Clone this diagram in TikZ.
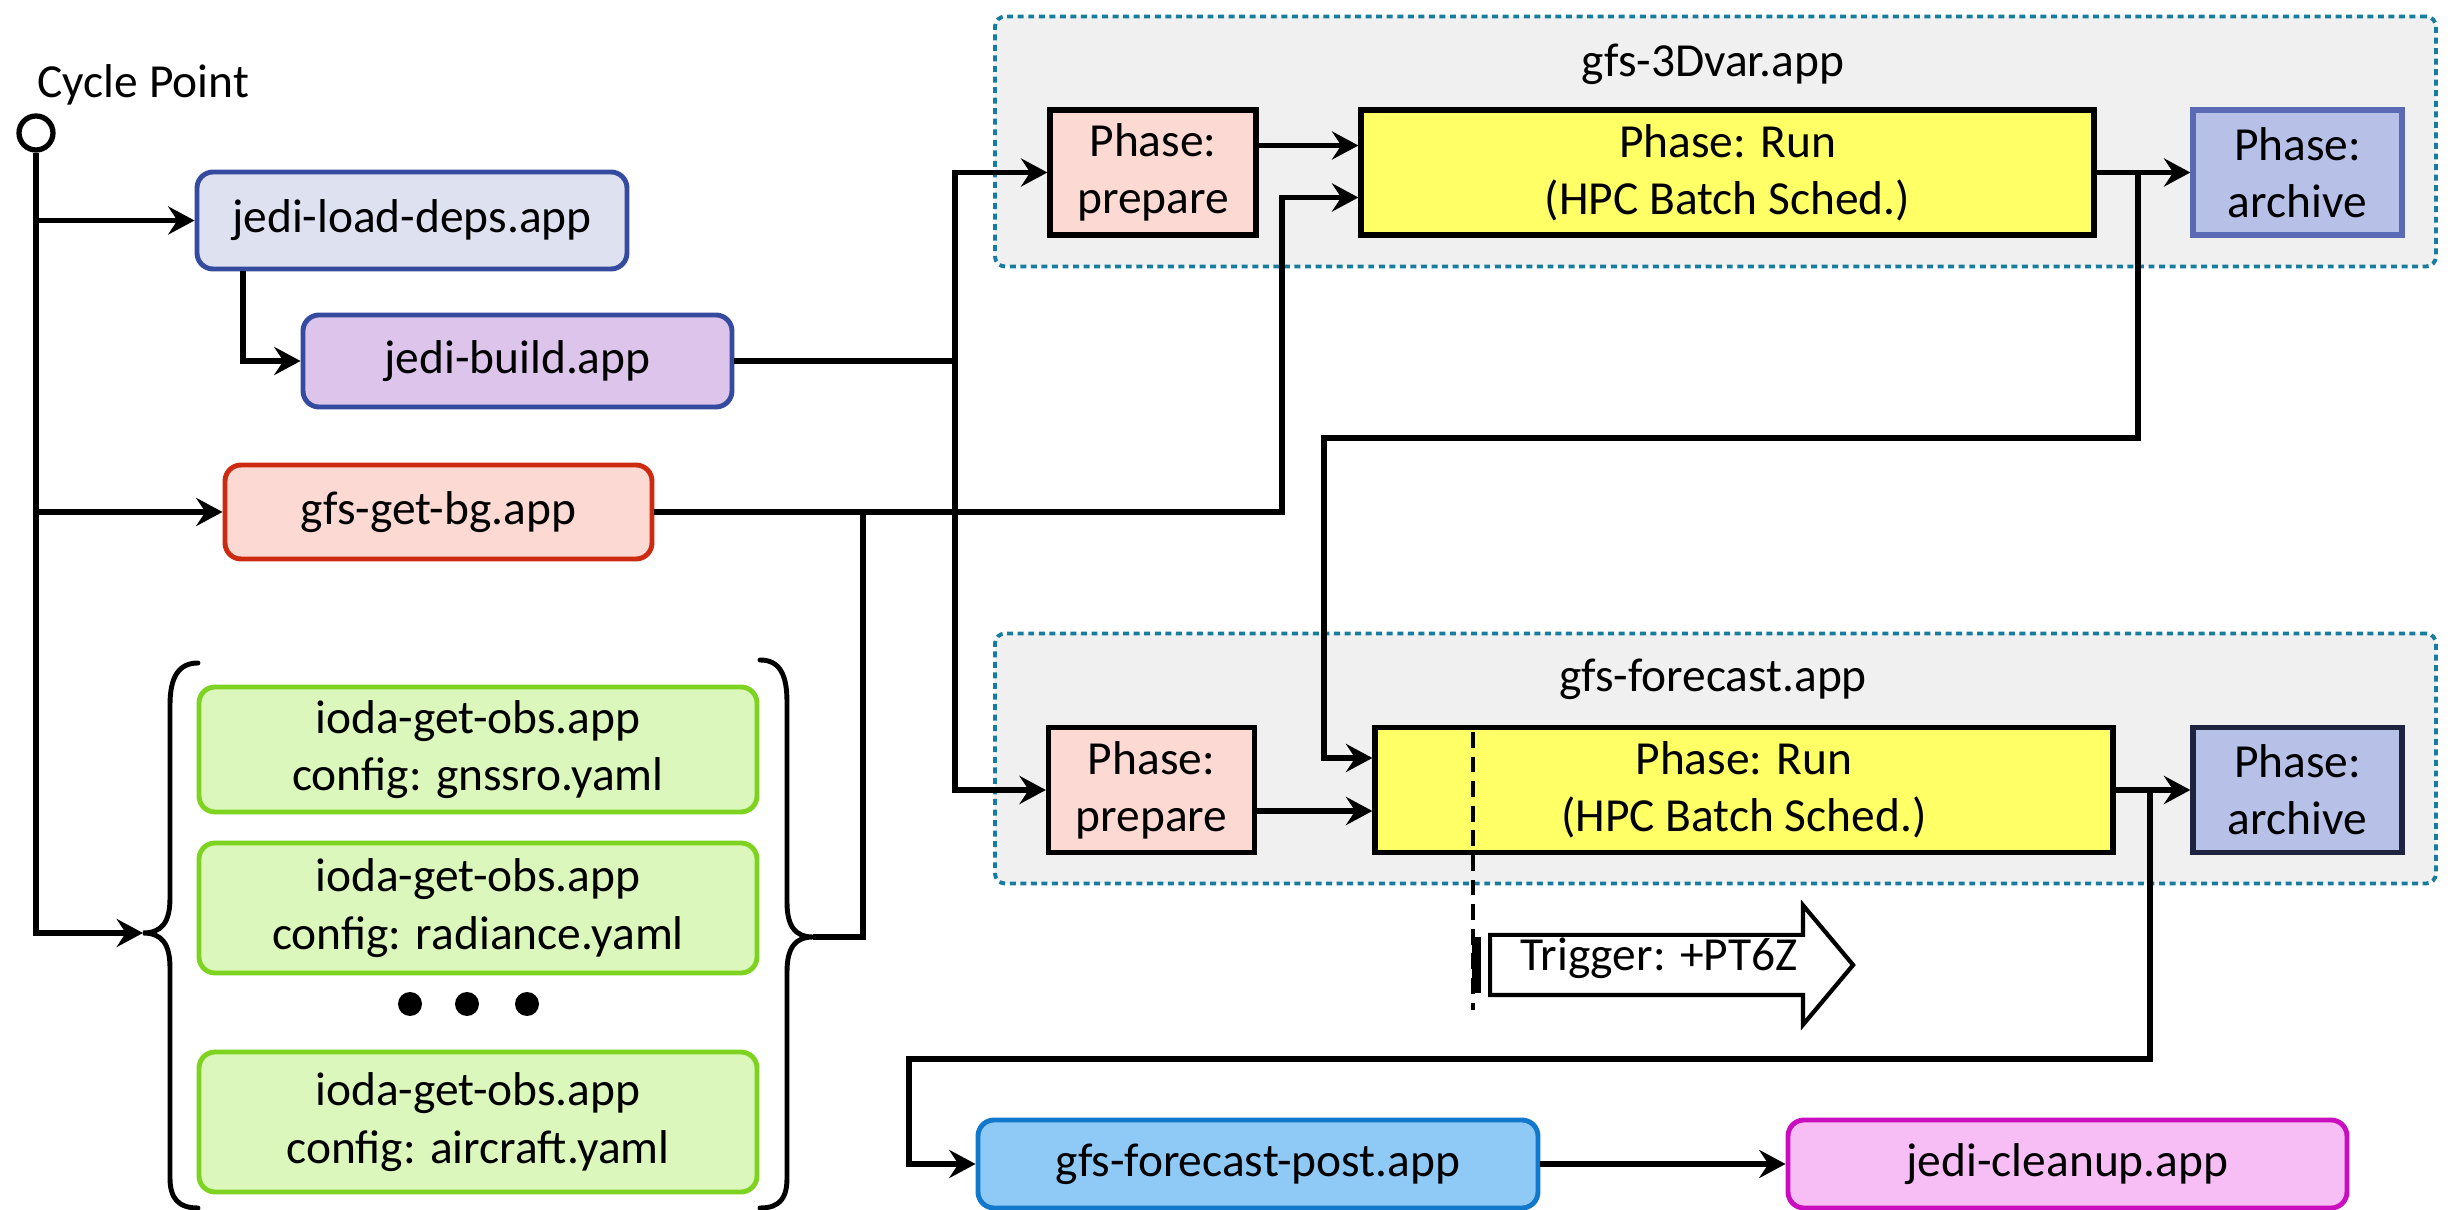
\documentclass[tikz,border=0pt]{standalone}
\usepackage{fontspec}
\setmainfont{Carlito}
\usetikzlibrary{shapes.arrows, arrows.meta, positioning, calc}
\definecolor{CylcBlue}{HTML}{354BA0}
\definecolor{CylcLavender}{HTML}{DEE1F0}
\definecolor{CylcLilac}{HTML}{DCC4EA}
\definecolor{CylcRed}{HTML}{CC2B12}
\definecolor{CylcSalmon}{HTML}{FCD9D3}
\definecolor{CylcGreen}{HTML}{7ED321}
\definecolor{CylcLime}{HTML}{DBF7BC}
\definecolor{CylcSky}{HTML}{8FC9F6}
\definecolor{CylcOcean}{HTML}{1178CC}
\definecolor{CylcPink}{HTML}{F7BEF5}
\definecolor{CylcMagenta}{HTML}{C90DBF}
\definecolor{CylcYellow}{HTML}{FFFF66}
\definecolor{CylcPeri}{HTML}{B7C1E8}
\definecolor{CylcPeriDark}{HTML}{5A6AB5}
\definecolor{CylcNavy}{HTML}{1E2440}
\definecolor{CylcTeal}{HTML}{177C9E}
\definecolor{CylcGrey}{HTML}{F0F0F0}
\tikzset{
    % Task boxes - rounded corners
    app/.style={
        rectangle,
        rounded corners=0.16cm,
        line width=1.4pt,
        align=center,
        inner sep=0pt
    },
    depsapp/.style={app, draw=CylcBlue, fill=CylcLavender},
    buildapp/.style={app, draw=CylcBlue, fill=CylcLilac},
    bgapp/.style={app, draw=CylcRed, fill=CylcSalmon},
    obsapp/.style={app, draw=CylcGreen, fill=CylcLime, minimum width=5.58cm},
    postapp/.style={app, draw=CylcOcean, fill=CylcSky},
    cleanapp/.style={app, draw=CylcMagenta, fill=CylcPink},
    % Phase boxes - sharp corners
    phase/.style={
        rectangle,
        draw=black,
        line width=1.5pt,
        minimum height=1.25cm,
        align=center,
        inner sep=0pt
    },
    prepare/.style={phase, fill=CylcSalmon, minimum width=2.06cm},
    run/.style={phase, fill=CylcYellow},
    archive/.style={phase, fill=CylcPeri, minimum width=2.09cm},
    % Containers of the phases
    container/.style={
        rectangle,
        rounded corners=0.1cm,
        draw=CylcTeal,
        fill=CylcGrey,
        line width=1.1pt,
        dash pattern=on 1.7pt off 1.3pt,
        minimum width=14.41cm,
        minimum height=2.5cm
    },
    % Connector styles - straight lines only
    link/.style={
        line width=1.6pt,
        draw=black
    },
    arrow/.style={
        link,
        -{Stealth[length=7.5pt, width=8pt, inset=2.6pt]}
    },
    brace/.style={
        line width=1.4pt,
        line cap=round
    },
    trigger/.style={
        single arrow,
        draw=black,
        fill=white,
        line width=1.2pt,
        minimum height=3.63cm,
        text height=0.34cm,
        text depth=0.22cm,
        single arrow head extend=0.295cm,
        single arrow tip angle=100,
        inner sep=0pt
    }
}
\begin{document}
\begin{tikzpicture}[font=\fontsize{13.5}{16.3}\selectfont]
    \useasboundingbox (0,0) rectangle (24.55,-12.10);

    % Phase containers
    \node[container] (c3dvar) at (17.155,-1.415) {};
    \node[container] (cfcst) at (17.155,-7.585) {};
    \node (t3dvar) at (17.13,-0.64) {gfs-3Dvar.app};
    \node (tfcst) at (17.13,-6.79) {gfs-forecast.app};

    % Cycle point
    \node[circle, draw=black, line width=1.5pt, minimum size=0.34cm, inner sep=0pt] (cp) at (0.36,-1.33) {};
    \node[anchor=base west, inner sep=0pt] (cplabel) at (0.37,-0.98) {Cycle Point};

    % Preparation tasks
    \node[depsapp, minimum width=4.30cm, minimum height=0.97cm] (loaddeps) at (4.12,-2.205) {jedi-load-deps.app};
    \node[buildapp, minimum width=4.29cm, minimum height=0.92cm] (build) at (5.175,-3.61) {jedi-build.app};
    \node[bgapp, minimum width=4.27cm, minimum height=0.94cm] (getbg) at (4.385,-5.12) {gfs-get-bg.app};

    % Observation tasks
    \node[obsapp, minimum height=1.25cm] (obs1) at (4.78,-7.495) {ioda-get-obs.app\\config: gnssro.yaml};
    \node[obsapp, minimum height=1.30cm] (obs2) at (4.78,-9.08) {ioda-get-obs.app\\config: radiance.yaml};
    \node[obsapp, minimum height=1.40cm] (obs3) at (4.78,-11.22) {ioda-get-obs.app\\config: aircraft.yaml};
    \foreach \x in {4.10,4.67,5.27}
        \fill (\x,-10.04) circle (0.12);

    % Braces round the observation tasks
    \coordinate (lbrace) at (1.43,-9.33);
    \coordinate (rbrace) at (8.13,-9.37);
    \draw[brace] (1.98,-6.63) .. controls (1.78,-6.63) and (1.70,-6.78) .. (1.70,-7.05)
        -- (1.70,-8.98) .. controls (1.70,-9.22) and (1.62,-9.33) .. (lbrace)
        .. controls (1.62,-9.33) and (1.70,-9.44) .. (1.70,-9.68)
        -- (1.70,-11.78) .. controls (1.70,-11.98) and (1.78,-12.08) .. (1.98,-12.08);
    \draw[brace] (7.60,-6.60) .. controls (7.80,-6.60) and (7.87,-6.75) .. (7.87,-7.02)
        -- (7.87,-9.02) .. controls (7.87,-9.26) and (7.95,-9.37) .. (rbrace)
        .. controls (7.95,-9.37) and (7.87,-9.48) .. (7.87,-9.72)
        -- (7.87,-11.78) .. controls (7.87,-11.98) and (7.80,-12.08) .. (7.60,-12.08);

    % 3Dvar phases
    \node[prepare] (prep3) at (11.53,-1.725) {Phase:\\prepare};
    \node[run, minimum width=7.33cm] (run3) at (17.275,-1.725) {Phase: Run\\(HPC Batch Sched.)};
    \node[archive, draw=CylcPeriDark] (arch3) at (22.975,-1.725) {Phase:\\archive};

    % Forecast phases
    \node[prepare] (prep4) at (11.515,-7.90) {Phase:\\prepare};
    \node[run, minimum width=7.38cm] (run4) at (17.44,-7.90) {Phase: Run\\(HPC Batch Sched.)};
    \node[archive, draw=CylcNavy] (arch4) at (22.975,-7.90) {Phase:\\archive};

    % Trigger offset
    \draw[line width=1pt, dash pattern=on 4.5pt off 2.5pt] (14.73,-7.32) -- (14.73,-10.10);
    \fill (14.72,-9.37) rectangle (14.81,-9.93);
    \node[trigger, anchor=tail] (trig) at (14.88,-9.65) {Trigger: +PT6Z};

    % Post tasks
    \node[postapp, minimum width=5.60cm, minimum height=0.88cm] (post) at (12.58,-11.64) {gfs-forecast-post.app};
    \node[cleanapp, minimum width=5.59cm, minimum height=0.88cm] (clean) at (20.675,-11.64) {jedi-cleanup.app};

    % Connectors from the cycle point
    \draw[arrow] (cp.south) |- (lbrace);
    \draw[arrow] (cp.south |- loaddeps.west) -- (loaddeps.west);
    \draw[arrow] (cp.south |- getbg.west) -- (getbg.west);
    \draw[arrow] ([xshift=-1.69cm]loaddeps.south) |- (build.west);

    % Connectors into the phases
    \coordinate (jn1) at (9.55,-3.61);
    \coordinate (jn2) at (8.63,-5.12);
    \coordinate (jn3) at (12.82,-5.12);
    \draw[link] (build.east) -- (jn1);
    \draw[arrow] (jn1) |- (prep3.west);
    \draw[arrow] (jn1) |- (prep4.west);
    \draw[arrow] (getbg.east) -- (jn3) |- ([yshift=-0.25cm]run3.west);
    \draw[link] (rbrace) -| (jn2);

    % Connectors between the phases
    \draw[arrow] ([yshift=0.27cm]prep3.east) -- ([yshift=0.27cm]run3.west);
    \draw[arrow] (run3) -- (arch3);
    \coordinate (r3out) at (21.38,-1.725);
    \draw[arrow] (r3out) |- (13.24,-4.38) |- ([yshift=0.32cm]run4.west);
    \draw[arrow] ([yshift=-0.21cm]prep4.east) -- ([yshift=-0.21cm]run4.west);
    \draw[arrow] (run4) -- (arch4);
    \coordinate (r4out) at (21.50,-7.90);
    \draw[arrow] (r4out) |- (9.09,-10.59) |- (post.west);
    \draw[arrow] (post) -- (clean);
\end{tikzpicture}
\end{document}
